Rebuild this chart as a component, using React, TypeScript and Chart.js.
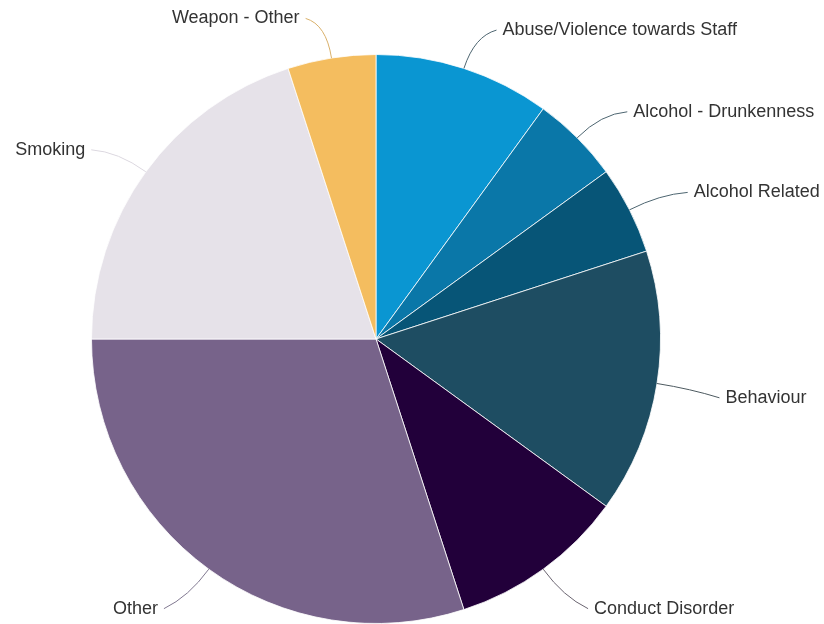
import React, { useEffect, useRef } from "react";
import { Chart, registerables } from "chart.js";

Chart.register(...registerables);

const categories = [
  "Abuse/Violence towards Staff",
  "Alcohol - Drunkenness",
  "Alcohol Related",
  "Behaviour",
  "Conduct Disorder",
  "Other",
  "Smoking",
  "Weapon - Other",
];
const values = [2, 1, 1, 3, 2, 6, 4, 1];
const colors = [
  "#0a96d2",
  "#0a77a8",
  "#075577",
  "#1e4d62",
  "#22003a",
  "#77638a",
  "#e6e2e9",
  "#f4bd5f",
];
const lineColors = [
  "#4d6570",
  "#4d6570",
  "#4d6570",
  "#4d5a60",
  "#6a6470",
  "#807890",
  "#dcd8e0",
  "#d9b06a",
];

const labelPlugin = {
  id: "pieLabels",
  afterDatasetsDraw(chart: any) {
    const ctx = chart.ctx;
    const meta = chart.getDatasetMeta(0);
    ctx.save();
    ctx.font = "18px 'Liberation Sans', Arial, sans-serif";
    ctx.textBaseline = "middle";
    meta.data.forEach((arc: any, i: number) => {
      const { x, y, startAngle, endAngle, outerRadius } = arc.getProps(
        ["x", "y", "startAngle", "endAngle", "outerRadius"],
        true
      );
      const mid = (startAngle + endAngle) / 2;
      const cos = Math.cos(mid);
      const sin = Math.sin(mid);
      const r1 = outerRadius;
      const r2 = outerRadius + 34;
      const sx = x + cos * r1;
      const sy = y + sin * r1;
      const ex0 = x + cos * r2;
      const ey0 = y + sin * r2;
      const right = cos >= 0;
      const dx = 19 + 10 * Math.abs(cos);
      const ex = ex0 + (right ? dx : -dx);
      const dy = sin < -0.8 ? -6 : sin < -0.3 ? -2 : sin < 0.3 ? 9 : 12;
      const ey = ey0 + dy;
      ctx.strokeStyle = lineColors[i];
      ctx.lineWidth = 1;
      ctx.beginPath();
      ctx.moveTo(sx, sy);
      ctx.quadraticCurveTo(ex0, ey0, ex, ey);
      ctx.stroke();
      ctx.fillStyle = "#333333";
      ctx.textAlign = right ? "left" : "right";
      ctx.fillText(categories[i], ex + (right ? 6 : -6), ey);
    });
    ctx.restore();
  },
};

export default function App() {
  const ref = useRef<HTMLCanvasElement | null>(null);
  useEffect(() => {
    if (!ref.current) return;
    const chart = new Chart(ref.current, {
      type: "pie",
      data: {
        labels: categories,
        datasets: [
          {
            data: values,
            backgroundColor: colors,
            borderColor: "rgba(255,255,255,0.8)",
            borderWidth: 1,
          },
        ],
      },
      options: {
        animation: false,
        responsive: false,
        layout: { padding: { left: 91, right: 163, top: 54, bottom: 0 } },
        plugins: {
          legend: { display: false },
          tooltip: { enabled: false },
        },
      },
      plugins: [labelPlugin],
    });
    return () => chart.destroy();
  }, []);
  return (
    <div style={{ position: "absolute", left: 0, top: 0, width: 824, height: 624, background: "#fff" }}>
      <canvas ref={ref} width={824} height={624} style={{ width: 824, height: 624 }} />
    </div>
  );
}
